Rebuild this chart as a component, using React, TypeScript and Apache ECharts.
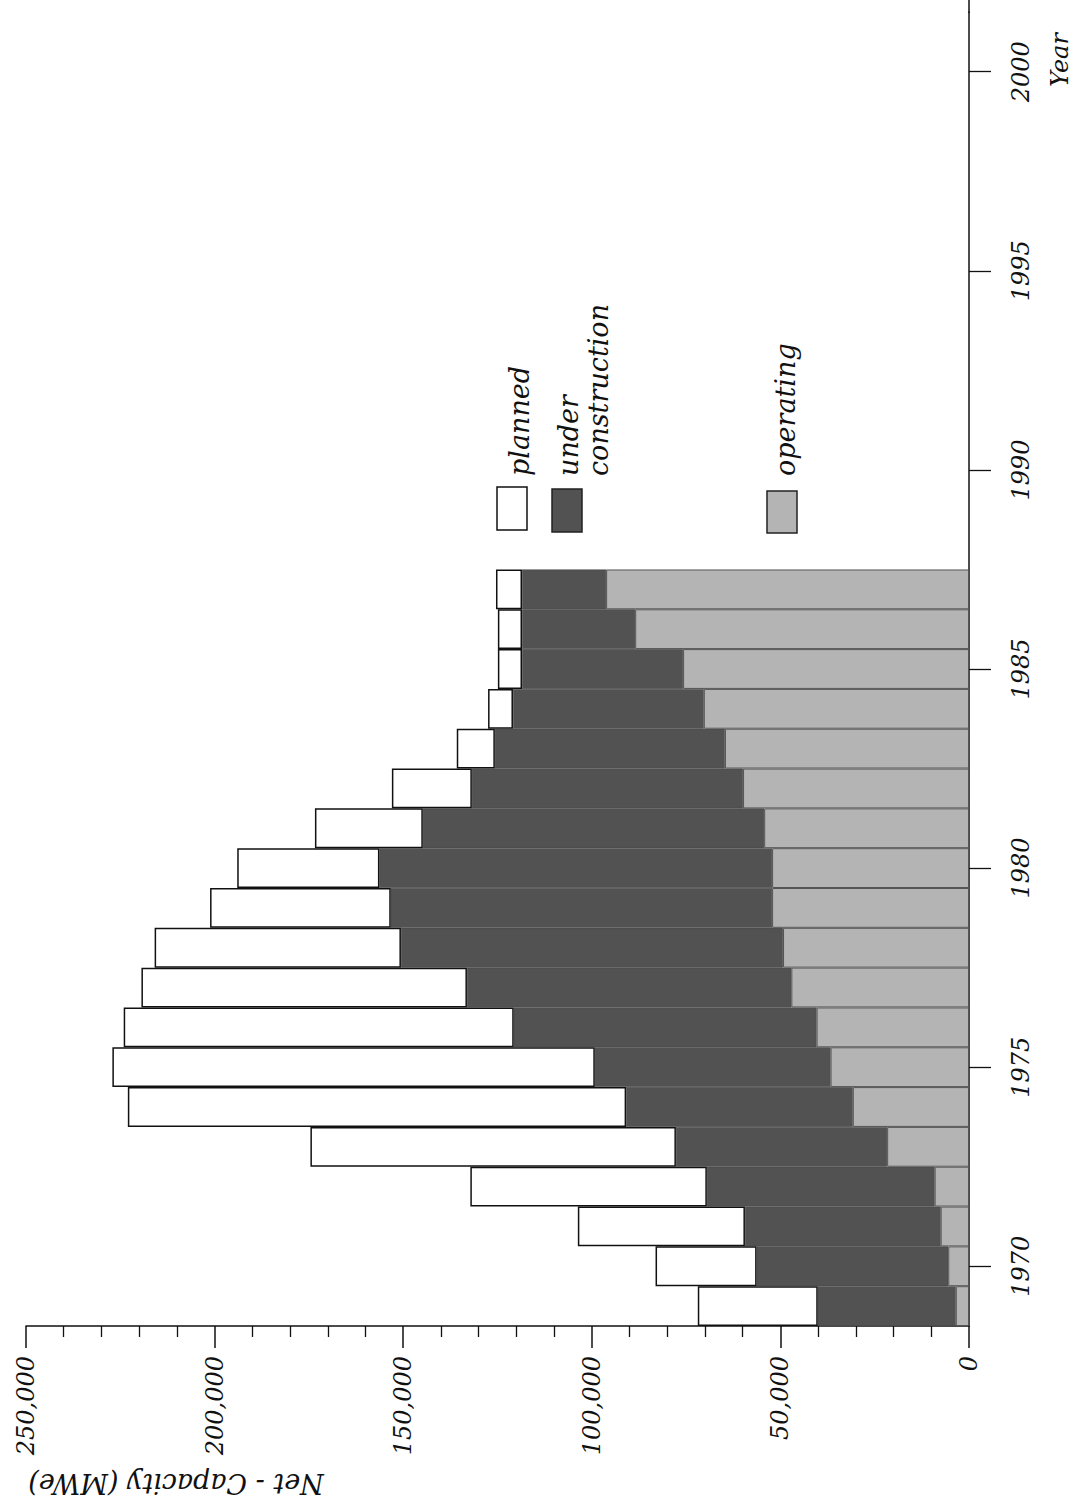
import React, { useEffect, useRef } from "react";
import * as echarts from "echarts";

// Year categories on the (vertical) time axis
const axisYears = [
  "1969", "1970", "1971", "1972", "1973", "1974", "1975", "1976", "1977", "1978",
  "1979", "1980", "1981", "1982", "1983", "1984", "1985", "1986", "1987", "1988",
  "1989", "1990", "1991", "1992", "1993", "1994", "1995", "1996", "1997", "1998",
  "1999", "2000", "2001",
];

// Net capacity in MWe, years 1969 .. 1987
const operating = [
  3500, 5500, 7500, 9100, 21700, 30800, 36700, 40400, 47100, 49300,
  52200, 52200, 54300, 59900, 64700, 70300, 75800, 88500, 96200,
];
const underConstruction = [
  36600, 50800, 51900, 60400, 56000, 60100, 62500, 80300, 86000, 101300,
  101100, 104100, 90500, 71900, 61000, 50600, 42700, 30000, 22300,
];
const planned = [
  31800, 26800, 44300, 62700, 96900, 132100, 127900, 103400, 86300, 65300,
  47900, 37700, 28600, 21200, 10100, 6600, 6400, 6400, 6900,
];

const legendNames = ["planned", "under", "construction", "operating"];
const valueAxisTitle = "Net - Capacity (MWe)";
const timeAxisTitle = "Year";

const FONT = "'DejaVu Serif', serif";
const C_PLANNED = "#ffffff";
const C_UC = "#525252";
const C_OP = "#b4b4b4";

export default function App() {
  const ref = useRef<HTMLDivElement>(null);

  useEffect(() => {
    if (!ref.current) return;
    const chart = echarts.init(ref.current, undefined, { renderer: "svg" });

    const textBase = {
      fontFamily: FONT,
      fontStyle: "italic",
      fill: "#111",
    };

    const option: any = {
      animation: false,
      backgroundColor: "#ffffff",
      grid: { left: 26, right: 106, top: 12, bottom: 177, containLabel: false },
      xAxis: {
        type: "value",
        inverse: true,
        position: "bottom",
        min: 0,
        max: 250000,
        interval: 50000,
        axisLine: { show: true, lineStyle: { color: "#111", width: 1.5 } },
        axisTick: { show: true, inside: false, length: 22, lineStyle: { color: "#111", width: 1.5 } },
        minorTick: { show: true, splitNumber: 5, length: 11, lineStyle: { color: "#111", width: 1.3 } },
        splitLine: { show: false },
        minorSplitLine: { show: false },
        axisLabel: {
          rotate: 90,
          margin: 30,
          fontFamily: FONT,
          fontStyle: "italic",
          fontSize: 24,
          color: "#111",
          formatter: (v: number) => (v === 0 ? "0" : v.toLocaleString("en-US")),
        },
      },
      yAxis: {
        type: "category",
        position: "right",
        data: axisYears,
        boundaryGap: true,
        axisLine: { show: true, lineStyle: { color: "#111", width: 1.5 } },
        axisTick: {
          show: true,
          alignWithLabel: true,
          length: 22,
          interval: (_i: number, v: string) => Number(v) % 5 === 0,
          lineStyle: { color: "#111", width: 1.3 },
        },
        splitLine: { show: false },
        axisLabel: {
          rotate: 90,
          margin: 40,
          interval: (_i: number, v: string) => Number(v) % 5 === 0,
          fontFamily: FONT,
          fontStyle: "italic",
          fontSize: 24,
          color: "#111",
        },
      },
      series: [
        {
          name: "operating",
          type: "bar",
          stack: "cap",
          data: operating,
          barCategoryGap: "0%",
          itemStyle: { color: C_OP, borderColor: "#555", borderWidth: 1 },
        },
        {
          name: "under construction",
          type: "bar",
          stack: "cap",
          data: underConstruction,
          barCategoryGap: "0%",
          itemStyle: { color: C_UC, borderColor: "#444", borderWidth: 0.5 },
        },
        {
          name: "planned",
          type: "bar",
          stack: "cap",
          data: planned,
          barCategoryGap: "0%",
          itemStyle: { color: C_PLANNED, borderColor: "#111", borderWidth: 1.5 },
        },
      ],
      graphic: [
        // extension of the time axis line to the top edge
        { type: "line", shape: { x1: 969, y1: 0, x2: 969, y2: 13 }, style: { stroke: "#111", lineWidth: 1.5 } },
        // legend boxes
        { type: "rect", shape: { x: 497, y: 487, width: 30, height: 43 }, style: { fill: C_PLANNED, stroke: "#111", lineWidth: 1.5 } },
        { type: "rect", shape: { x: 552, y: 489, width: 30, height: 43 }, style: { fill: C_UC, stroke: "#222", lineWidth: 1.5 } },
        { type: "rect", shape: { x: 767, y: 491, width: 30, height: 42 }, style: { fill: C_OP, stroke: "#222", lineWidth: 1.5 } },
        // legend labels (rotated, reading bottom to top)
        { type: "text", x: 519, y: 476, rotation: Math.PI / 2, style: { ...textBase, text: legendNames[0], fontSize: 27, textAlign: "left", textVerticalAlign: "middle" } },
        { type: "text", x: 568, y: 476, rotation: Math.PI / 2, style: { ...textBase, text: legendNames[1], fontSize: 27, textAlign: "left", textVerticalAlign: "middle" } },
        { type: "text", x: 598, y: 476, rotation: Math.PI / 2, style: { ...textBase, text: legendNames[2], fontSize: 27, textAlign: "left", textVerticalAlign: "middle" } },
        { type: "text", x: 785, y: 476, rotation: Math.PI / 2, style: { ...textBase, text: legendNames[3], fontSize: 27, textAlign: "left", textVerticalAlign: "middle" } },
        // axis titles
        { type: "text", x: 1060, y: 60, rotation: Math.PI / 2, style: { ...textBase, text: timeAxisTitle, fontSize: 24, textAlign: "center", textVerticalAlign: "middle" } },
        { type: "text", x: 176, y: 1483, rotation: Math.PI, style: { ...textBase, text: valueAxisTitle, fontSize: 27, textAlign: "center", textVerticalAlign: "middle" } },
      ],
    };

    chart.setOption(option);
    return () => chart.dispose();
  }, []);

  return (
    <div
      ref={ref}
      style={{ position: "absolute", left: 0, top: 0, width: 1075, height: 1503, background: "#fff" }}
    />
  );
}
